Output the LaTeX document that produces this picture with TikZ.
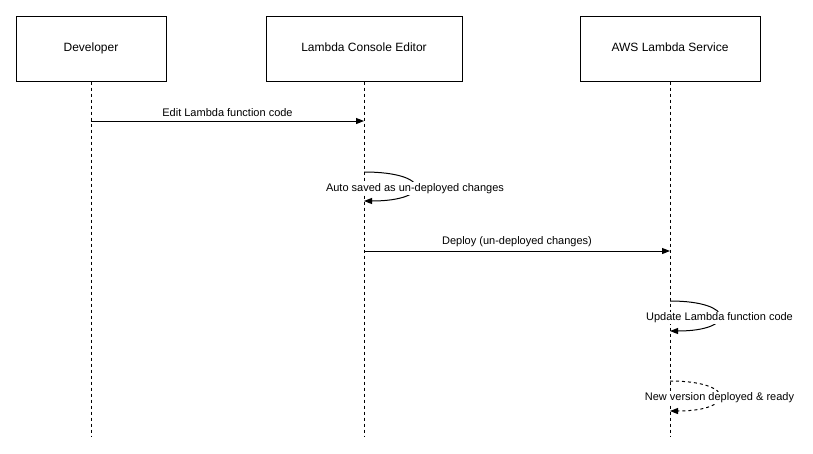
\documentclass[tikz,border=0pt]{standalone}
\usepackage{fontspec}
\setmainfont{Liberation Sans}
\usetikzlibrary{arrows.meta,calc}

\begin{document}
\begin{tikzpicture}
	[
	 x = 1pt,
	 y = -1pt,
	 line width = 1pt,
	 every node/.style = {font = \fontsize{11}{13}\selectfont,
	                      inner sep = 2pt
	                     },
	 actor/.style = {shape=rectangle,
	                 draw,
	                 align=center,
	                 minimum height = 65pt,
	                 font = \fontsize{12}{14}\selectfont,
	                 text depth = 2pt,
	                 inner sep = 0pt
	                },
	 life/.style = {dash pattern = on 3pt off 3pt},
	 msg/.style  = {-{Triangle[length=8pt,width=6pt]}},
	 lbl/.style  = {above = 1.5pt, midway},
	 LL/.style   = {pos = .5, yshift = -2pt, fill = white, solid, inner sep = 1pt}
	]
	
	\useasboundingbox (0,0) rectangle (813,453);
	
	\newcommand{\ASC}{Auto saved as un-deployed changes}
	\newcommand{\ULF}{Update Lambda function code}
	\newcommand{\NVD}{New version deployed \& ready}
	
	\node [actor, minimum width = 150pt] (Dev) at (91,48.5)  {Developer};
	\node [actor, minimum width = 196pt] (Con) at (364,48.5) {Lambda Console Editor};
	\node [actor, minimum width = 180pt] (Svc) at (670,48.5) {AWS Lambda Service};
	
	\coordinate (DevE) at (91,437);
	\coordinate (ConE) at (364,437);
	\coordinate (SvcE) at (670,437);
	
	\draw [life] (Dev) -- (DevE);
	\draw [life] (Con) -- (ConE);
	\draw [life] (Svc) -- (SvcE);
	
	\draw [msg] (Dev |- 0,121) -- (Con |- 0,121) node [lbl] {Edit Lambda function code};
	\draw [msg] (Con |- 0,172) .. controls +(68,0) and +(68,0) .. (Con |- 0,201) node [LL] {\ASC};
	\draw [msg] (Con |- 0,251) -- (Svc |- 0,251) node [lbl] {Deploy (un-deployed changes)};
	\draw [msg] (Svc |- 0,301) .. controls +(66,0) and +(66,0) .. (Svc |- 0,331) node [LL] {\ULF};
	\draw [msg, life] (Svc |- 0,381) .. controls +(66,0) and +(66,0) .. (Svc |- 0,411) node [LL] {\NVD};
\end{tikzpicture}
\end{document}
